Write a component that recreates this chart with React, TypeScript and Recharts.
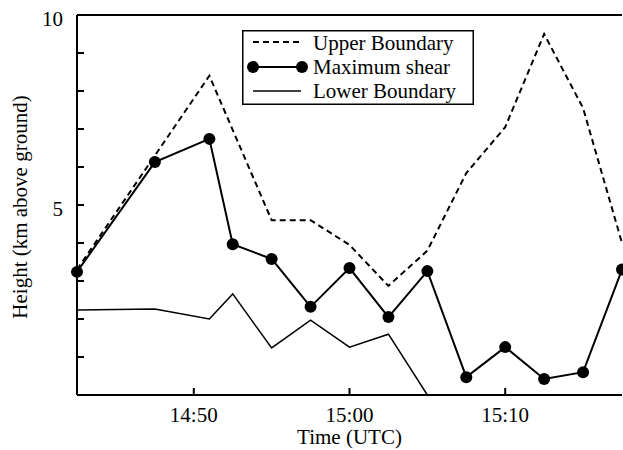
import { LineChart, Line, XAxis, YAxis, ReferenceLine, Legend, Label } from 'recharts'

// time in minutes after 14:00 UTC
const times = [42.5, 47.5, 51, 52.5, 55, 57.5, 60, 62.5, 65, 67.5, 70, 72.5, 75, 77.5]
const upperBoundary = [3.3, 6.3, 8.4, null, 4.6, 4.6, 3.95, 2.87, 3.8, 5.84, 7.05, 9.5, 7.55, 4.0]
const maximumShear = [3.24, 6.13, 6.74, 3.97, 3.58, 2.32, 3.34, 2.05, 3.26, 0.47, 1.26, 0.42, 0.6, 3.3]
const lowerBoundary = [2.24, 2.26, 2.0, 2.66, 1.24, 1.97, 1.26, 1.6, 0, 0, 0, 0, 0, 0]

const xTicks = [50, 60, 70]
const xTickLabels = ['14:50', '15:00', '15:10']
const yTicks = [1, 2, 3, 4, 5, 6, 7, 8, 9, 10]
const yLabelled = [5, 10]

const data = times.map((t, i) => ({
  t,
  upper: upperBoundary[i],
  shear: maximumShear[i],
  lower: lowerBoundary[i],
}))

const FONT = '"Liberation Serif", "Times New Roman", serif'
const PLOT_LEFT = 77
const PLOT_RIGHT = 622
const PLOT_BOTTOM = 395

// inward-pointing ticks, labels outside
const LeftTick = (props: any) => {
  const { y, payload } = props
  const v = payload.value
  return (
    <g>
      {v < 10 && <path d={`M${PLOT_LEFT},${y}h7`} stroke="#000" strokeWidth={2} fill="none" />}
      {yLabelled.includes(v) && (
        <text x={PLOT_LEFT - 14} y={y} dy="0.5em" textAnchor="end" fontSize={21} fontFamily={FONT} fill="#000">
          {v}
        </text>
      )}
    </g>
  )
}

const RightTick = (props: any) => {
  const { y, payload } = props
  if (payload.value >= 10) return <g />
  return <path d={`M${PLOT_RIGHT},${y}h-7`} stroke="#000" strokeWidth={2} fill="none" />
}

const BottomTick = (props: any) => {
  const { x, payload } = props
  const i = xTicks.indexOf(payload.value)
  return (
    <g>
      <path d={`M${x},${PLOT_BOTTOM}v-7`} stroke="#000" strokeWidth={2} fill="none" />
      <text x={x} y={PLOT_BOTTOM + 26.5} textAnchor="middle" fontSize={21} fontFamily={FONT} fill="#000">
        {xTickLabels[i]}
      </text>
    </g>
  )
}

const LegendBox = () => (
  <svg width={232} height={75} style={{ display: 'block' }}>
    <rect x={0.75} y={0.75} width={230.5} height={73.5} fill="#fff" stroke="#000" strokeWidth={1.5} />
    <line x1={11} x2={59} y1={12} y2={12} stroke="#000" strokeWidth={2} strokeDasharray="6 4" />
    <line x1={11} x2={60} y1={37} y2={37} stroke="#000" strokeWidth={2} />
    <circle cx={11} cy={37} r={6} fill="#000" />
    <circle cx={60} cy={37} r={6} fill="#000" />
    <line x1={11} x2={59} y1={61} y2={61} stroke="#000" strokeWidth={1.5} />
    <g fontSize={21} fontFamily={FONT} fill="#000">
      <text x={71} y={20}>Upper Boundary</text>
      <text x={71} y={44}>Maximum shear</text>
      <text x={71} y={68}>Lower Boundary</text>
    </g>
  </svg>
)

export default function App() {
  return (
    <div style={{ position: 'absolute', left: 0, top: 0, width: 623, height: 450, background: '#fff' }}>
      <LineChart width={623} height={450} data={data} margin={{ top: 15, right: 1, left: 0, bottom: 0 }}>
        <XAxis
          dataKey="t"
          type="number"
          domain={[42.5, 77.5]}
          ticks={xTicks}
          interval={0}
          tick={BottomTick}
          tickLine={false}
          height={55}
          axisLine={{ stroke: '#000', strokeWidth: 2 }}
        >
          <Label value="Time (UTC)" position="insideBottom" offset={6} fontSize={21} fontFamily={FONT} fill="#000" />
        </XAxis>
        <YAxis
          type="number"
          domain={[0, 10]}
          ticks={yTicks}
          interval={0}
          tick={LeftTick}
          tickLine={false}
          width={77}
          axisLine={{ stroke: '#000', strokeWidth: 2 }}
        >
          <Label
            content={() => (
              <text
                x={27}
                y={207}
                transform="rotate(-90, 27, 207)"
                textAnchor="middle"
                fontSize={21}
                fontFamily={FONT}
                fill="#000"
              >
                Height (km above ground)
              </text>
            )}
          />
        </YAxis>
        <YAxis
          yAxisId="right"
          orientation="right"
          type="number"
          domain={[0, 10]}
          ticks={yTicks}
          interval={0}
          tick={RightTick}
          tickLine={false}
          width={0}
          axisLine={{ stroke: '#000', strokeWidth: 2 }}
        />
        <ReferenceLine y={10} stroke="#000" strokeWidth={2} />
        <Legend
          layout="horizontal"
          verticalAlign="middle"
          align="center"
          content={LegendBox}
          wrapperStyle={{ position: 'absolute', left: 242, top: 30, width: 232, height: 75 }}
        />
        <Line
          type="linear"
          dataKey="upper"
          stroke="#000"
          strokeWidth={2}
          strokeDasharray="6 4"
          dot={false}
          connectNulls
          isAnimationActive={false}
        />
        <Line
          type="linear"
          dataKey="lower"
          stroke="#000"
          strokeWidth={1.5}
          dot={false}
          isAnimationActive={false}
        />
        <Line
          type="linear"
          dataKey="shear"
          stroke="#000"
          strokeWidth={2}
          dot={{ r: 6, fill: '#000', stroke: '#000', strokeWidth: 0 }}
          isAnimationActive={false}
        />
      </LineChart>
    </div>
  )
}
